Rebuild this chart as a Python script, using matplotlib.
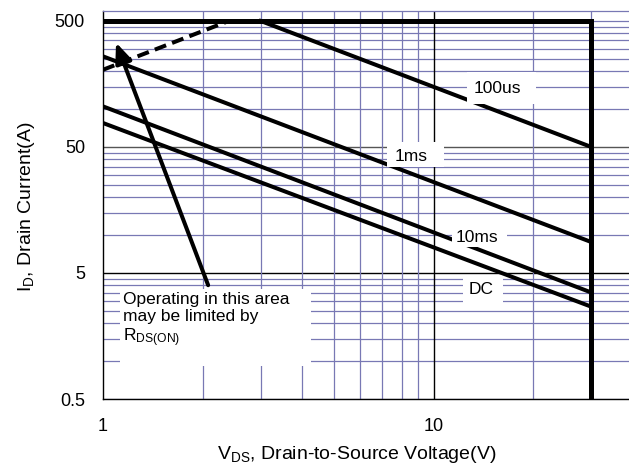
'''
Safe operating area plot (log-log)
'''
import matplotlib
matplotlib.use('Agg')
import matplotlib.pyplot as plt
from matplotlib.patches import Rectangle

plt.rcParams['font.family'] = ['Liberation Sans', 'DejaVu Sans']
plt.rcParams['mathtext.default'] = 'regular'

# curves (V, A)
rds_v = [1, 2.4]
rds_i = [205, 500]
v_100us = [3, 30]
i_100us = [500, 50]
v_1ms = [1, 30]
i_1ms = [262, 8.8]
v_10ms = [1, 30]
i_10ms = [105, 3.5]
v_dc = [1, 30]
i_dc = [77.5, 2.7]
limit_v = [1, 30, 30]
limit_i = [500, 500, 0.5]

# curve labels: text, centre, white box (x0, x1, y0, y1)
curve_labels = ['100us', '1ms', '10ms', 'DC']
label_pos = [(15.6, 146), (8.55, 42.3), (13.56, 9.63), (13.94, 3.69)]
label_box = [(12.65, 20.46, 109, 196), (7.24, 10.77, 34.6, 54.6),
             (11.37, 16.68, 8.0, 12.2), (12.3, 16.26, 2.78, 4.72)]

xticks = [1, 10]
yticks = [0.5, 5, 50, 500]
ytick_labels = ['0.5', '5', '50', '500']
x_grid = [2, 3, 4, 5, 6, 7, 8, 9, 20, 30]
y_grid = [0.5 * k for k in range(1, 10)] + [5 * k for k in range(1, 10)] + [50 * k for k in range(1, 11)]

grid_col = '#7878b4'

fig = plt.figure(figsize=(6.29, 4.70), dpi=100)
ax = fig.add_axes([0.16375, 0.15106, 0.83625, 0.82553])
ax.set_xscale('log')
ax.set_yscale('log')
ax.set_xlim(1, 39)
ax.set_ylim(0.5, 600)

for y in y_grid:
	if y == 5:
		ax.axhline(y, color='black', lw=1.0, zorder=1)
	elif y == 50:
		ax.axhline(y, color='#555555', lw=1.0, zorder=1)
	else:
		ax.axhline(y, color=grid_col, lw=0.9, zorder=1)
for x in x_grid:
	ax.axvline(x, color=grid_col, lw=0.9, zorder=1)
ax.axvline(10, color='black', lw=1.0, zorder=1)

lw = 2.9
ax.plot(rds_v, rds_i, color='black', lw=lw, ls=(0, (3, 1.6)), zorder=2)
ax.plot(v_100us, i_100us, color='black', lw=lw, zorder=2)
ax.plot(v_1ms, i_1ms, color='black', lw=lw, zorder=2)
ax.plot(v_10ms, i_10ms, color='black', lw=lw, zorder=2)
ax.plot(v_dc, i_dc, color='black', lw=lw, zorder=2)
ax.plot(limit_v, limit_i, color='black', lw=3.6, zorder=2, solid_joinstyle='miter')

for text, (tx, ty), (x0, x1, y0, y1) in zip(curve_labels, label_pos, label_box):
	ax.add_patch(Rectangle((x0, y0), x1 - x0, y1 - y0, facecolor='white', edgecolor='none', zorder=3))
	ax.text(tx, ty, text, fontsize=12.5, ha='center', va='center', zorder=4)

# R_DS(on) note
ax.add_patch(Rectangle((1.126, 0.914), 4.26 - 1.126, 3.73 - 0.914, facecolor='white', edgecolor='none', zorder=3))
ax.text(1.15, 3.53, 'Operating in this area\nmay be limited by\nR$_{DS(ON)}$', fontsize=12.5,
	ha='left', va='top', linespacing=1.15, zorder=4)
ax.annotate('', xy=(1.095, 337), xytext=(2.08, 4.0), zorder=5,
	arrowprops=dict(arrowstyle='-|>,head_length=0.6,head_width=0.25', lw=lw,
		color='black', mutation_scale=20, shrinkA=0, shrinkB=0))

ax.set_xticks(xticks)
ax.set_xticklabels(['1', '10'])
ax.set_yticks(yticks)
ax.set_yticklabels(ytick_labels)
ax.minorticks_off()
ax.tick_params(axis='both', length=0, labelsize=13)
ax.tick_params(axis='x', pad=14)
ax.tick_params(axis='y', pad=13)

ax.spines['right'].set_visible(False)
ax.spines['top'].set_color(grid_col)
ax.spines['top'].set_linewidth(0.9)
ax.spines['left'].set_color('black')
ax.spines['bottom'].set_color('black')
ax.spines['left'].set_linewidth(1.0)
ax.spines['bottom'].set_linewidth(1.0)

ax.set_xlabel('V$_{DS}$, Drain-to-Source Voltage(V)', fontsize=14)
ax.set_ylabel('I$_{D}$, Drain Current(A)', fontsize=14)
ax.xaxis.label.set_va('center')
ax.xaxis.set_label_coords(0.482, -0.144)
ax.yaxis.label.set_va('center')
ax.yaxis.set_label_coords(-0.146, 0.496)

fig.savefig('out.png', dpi=100)
